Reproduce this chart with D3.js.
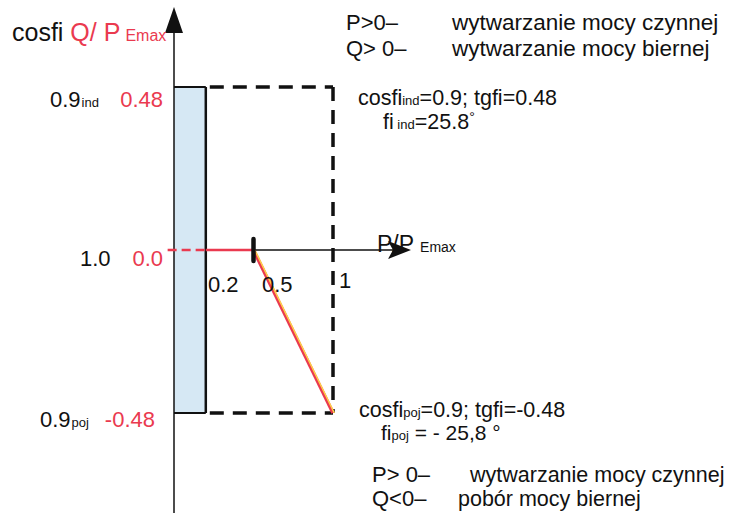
<!DOCTYPE html>
<html><head><meta charset="utf-8">
<script src="https://cdn.jsdelivr.net/npm/d3@7"></script>
<style>body{margin:0;background:#fff}svg{display:block}text{font-family:"Liberation Sans",Arial,sans-serif}</style>
</head><body>
<script>
// ---- data ----
const pTicks = [0.2, 0.5, 1];
const pTickLabels = ["0.2", "0.5", "1"];
const qLevels = [0.48, 0, -0.48];
const qLabels = ["0.48", "0.0", "-0.48"];
const cosMain = ["0.9", "1.0", "0.9"];
const cosSub = ["ind", "", "poj"];
const charP = [0.2, 0.5];          // flat red segment (Q = 0)
const charQ = [0, 0];
const slopeP = [0.5, 1];           // sloped segment
const slopeQ = [0, -0.48];
const pMinReg = 0.2, pMaxReg = 1, qMaxReg = 0.48, qMinReg = -0.48;

const W = 729, H = 513;
const FS = 22;
const svg = d3.select("body").append("svg").attr("width", W).attr("height", H);
const x = d3.scaleLinear().domain([0, 1]).range([174, 333]);
const y = d3.scaleLinear().domain([-0.48, 0.48]).range([413, 87]);
const red = "#ea3a4f", blk = "#111";

// shaded box
svg.append("rect").attr("x", x(0)).attr("y", y(qMaxReg)).attr("width", x(pMinReg) - x(0))
  .attr("height", y(qMinReg) - y(qMaxReg)).attr("fill", "#d6e8f4");
[qMaxReg, qMinReg].forEach(q => svg.append("line").attr("x1", x(0)).attr("x2", x(pMinReg))
  .attr("y1", y(q)).attr("y2", y(q)).attr("stroke", blk).attr("stroke-width", 2));
const dash = "14,9";
[qMaxReg, qMinReg].forEach(q => svg.append("line").attr("x1", x(pMinReg) + 4).attr("x2", x(pMaxReg))
  .attr("y1", y(q)).attr("y2", y(q)).attr("stroke", blk).attr("stroke-width", 3.5).attr("stroke-dasharray", dash));
svg.append("line").attr("x1", x(pMaxReg)).attr("x2", x(pMaxReg)).attr("y1", y(qMaxReg)).attr("y2", y(qMinReg))
  .attr("stroke", blk).attr("stroke-width", 3.5).attr("stroke-dasharray", dash);
svg.append("line").attr("x1", x(pMinReg)).attr("x2", x(pMinReg)).attr("y1", y(qMaxReg)).attr("y2", y(qMinReg))
  .attr("stroke", blk).attr("stroke-width", 2.5);

// Y axis
svg.append("line").attr("x1", x(0)).attr("x2", x(0)).attr("y1", 30).attr("y2", 513).attr("stroke", blk).attr("stroke-width", 1.5);
svg.append("path").attr("d", `M${x(0)},7 L${x(0) - 9},33 L${x(0) + 9},33 Z`).attr("fill", blk);
// X axis
svg.append("line").attr("x1", x(0.5)).attr("x2", 395).attr("y1", y(0)).attr("y2", y(0)).attr("stroke", blk).attr("stroke-width", 1.5);
svg.append("path").attr("d", `M411,${y(0)} L388,${y(0) - 9} L393,${y(0)} L388,${y(0) + 9} Z`).attr("fill", blk);

// red dashed left part
svg.append("line").attr("x1", x(-0.04)).attr("x2", x(pMinReg)).attr("y1", y(0)).attr("y2", y(0))
  .attr("stroke", red).attr("stroke-width", 2.5).attr("stroke-dasharray", "9,5");
const ln = d3.line().x(d => x(d[0])).y(d => y(d[1]));
svg.append("path").attr("d", ln(d3.zip(charP, charQ))).attr("stroke", red).attr("stroke-width", 2.5).attr("fill", "none");
svg.append("path").attr("d", ln(d3.zip(slopeP, slopeQ))).attr("stroke", red).attr("stroke-width", 3.5).attr("fill", "none");
svg.append("path").attr("d", ln(d3.zip(slopeP, slopeQ))).attr("transform", "translate(1.3,0)")
  .attr("stroke", "#ffd24a").attr("stroke-width", 1.5).attr("fill", "none");
svg.append("line").attr("x1", x(0.5)).attr("x2", x(0.5)).attr("y1", y(0) - 11).attr("y2", y(0) + 11)
  .attr("stroke", blk).attr("stroke-width", 4.5).attr("stroke-linecap", "round");

// tick labels
const tdx = [34, 88, 6], tdy = [292, 292, 288];
pTicks.forEach((p, i) => svg.append("text").attr("x", i === 2 ? x(p) + tdx[i] : x(0) + tdx[i]).attr("y", tdy[i])
  .attr("font-size", FS).attr("fill", blk).text(pTickLabels[i]));

// P/P Emax label
const px = svg.append("text").attr("x", 377).attr("y", 252).attr("font-size", 23).attr("fill", blk);
px.append("tspan").text("P/P");
px.append("tspan").attr("font-size", 14).attr("dx", 6).text("Emax");

// Y title
const yt = svg.append("text").attr("x", 12).attr("y", 41).attr("font-size", 25);
yt.append("tspan").attr("fill", blk).text("cosfi ");
yt.append("tspan").attr("fill", red).text("Q/ P");
yt.append("tspan").attr("fill", red).attr("font-size", 16).attr("dx", 5).text("Emax");

// left labels
const cx = [50, 80, 40], by = [107, 266, 427], rx = [163, 163, 155];
qLevels.forEach((q, i) => {
  const t = svg.append("text").attr("x", cx[i]).attr("y", by[i]).attr("font-size", FS).attr("fill", blk);
  t.append("tspan").text(cosMain[i]);
  if (cosSub[i]) t.append("tspan").attr("font-size", 13).attr("dx", 1).text(cosSub[i]);
  svg.append("text").attr("x", rx[i]).attr("y", by[i]).attr("text-anchor", "end")
    .attr("font-size", FS).attr("fill", red).text(qLabels[i]);
});

// annotations
function rich(xp, yp, fs, parts) {
  const t = svg.append("text").attr("x", xp).attr("y", yp).attr("fill", blk).attr("font-size", fs);
  parts.forEach(p => {
    const s = t.append("tspan").text(p[0]);
    if (p[1]) s.attr("font-size", p[1]);
    if (p[2]) s.attr("dy", p[2]);
  });
}
rich(358, 105, 21.5, [["cosfi"], ["ind", 13], ["=0.9; tgfi=0.48"]]);
rich(383, 129, 21.5, [["fi"], [" ind", 13], ["=25.8"], ["°", 14, -7]]);
rich(359, 417, 21.5, [["cosfi"], ["poj", 13], ["=0.9; tgfi=-0.48"]]);
rich(381, 440, 21, [["fi"], ["poj", 13], [" = - 25,8 °"]]);

// legends
const legTop = [["P>0–", "wytwarzanie mocy czynnej", 30], ["Q> 0–", "wytwarzanie mocy biernej", 56]];
legTop.forEach(r => {
  svg.append("text").attr("x", 346).attr("y", r[2]).attr("font-size", FS).attr("fill", blk).text(r[0]);
  svg.append("text").attr("x", 452).attr("y", r[2]).attr("font-size", 22.5).attr("fill", blk).text(r[1]);
});
const legBot = [["P> 0–", "wytwarzanie mocy czynnej", 482, 470], ["Q<0–", "pobór mocy biernej", 506, 458]];
legBot.forEach(r => {
  svg.append("text").attr("x", 372).attr("y", r[2]).attr("font-size", FS).attr("fill", blk).text(r[0]);
  svg.append("text").attr("x", r[3]).attr("y", r[2]).attr("font-size", 21.5).attr("fill", blk).text(r[1]);
});
</script>
</body></html>
